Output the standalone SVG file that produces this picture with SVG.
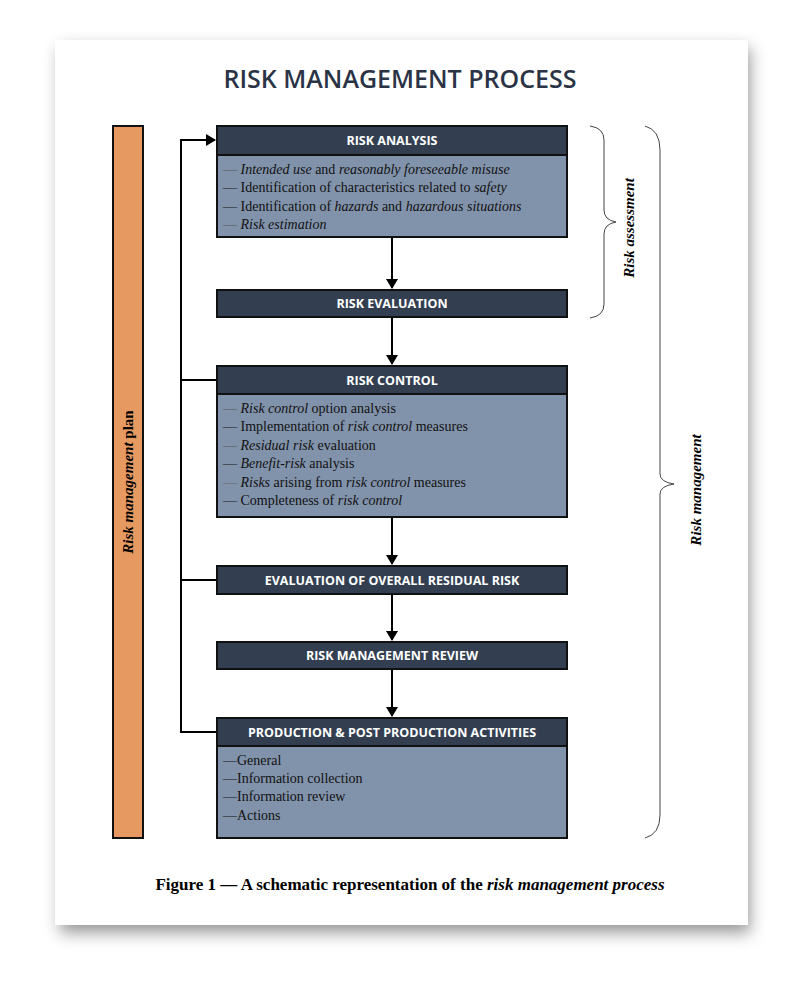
<svg xmlns="http://www.w3.org/2000/svg" width="800" height="988" viewBox="0 0 800 988">
<defs>
<filter id="sh" x="-10%" y="-10%" width="120%" height="120%"><feGaussianBlur stdDeviation="8"/></filter>
<marker id="ar" markerWidth="10" markerHeight="12" refX="9" refY="6" orient="auto" markerUnits="userSpaceOnUse"><path d="M0,0 L10,6 L0,12 Z" fill="#000"/></marker>
</defs>
<style>
.hd{fill:#333f51;stroke:#111;stroke-width:2}
.bd{fill:#8193ab;stroke:#111;stroke-width:2}
.ht{font-family:"Open Sans",sans-serif;font-weight:bold;font-size:12.5px;fill:#fff;text-anchor:middle}
.bt{font-family:"Liberation Serif",serif;font-size:14px;fill:#111}
.c{stroke:#000;stroke-width:2;fill:none}
.br{stroke:#444;stroke-width:1;fill:none}
</style>
<rect x="60" y="48" width="690" height="885" fill="#555" opacity="0.6" filter="url(#sh)"/>
<rect x="55" y="40" width="693" height="885" fill="#fff"/>
<text x="400" y="88" font-family="Open Sans,sans-serif" font-size="25" font-weight="600" fill="#2b3446" text-anchor="middle">RISK MANAGEMENT PROCESS</text>
<g id="plan"><rect x="113" y="126" width="30" height="712" fill="#e69a62" stroke="#111" stroke-width="2"/>
<text transform="translate(133,482) rotate(-90)" font-family="Liberation Serif,serif" font-size="15" font-weight="bold" text-anchor="middle"><tspan font-style="italic">Risk management</tspan>  plan</text></g>
<g id="connectors">
<path class="c" d="M217,380 H181 V140 H215" marker-end="url(#ar)"/>
<path class="c" d="M181,380 V732 H217 M181,580 H217"/>
<path class="c" d="M392,237 V288" marker-end="url(#ar)"/>
<path class="c" d="M392,317 V364" marker-end="url(#ar)"/>
<path class="c" d="M392,517 V564" stroke-width="1.3" marker-end="url(#ar)"/>
<path class="c" d="M392,594 V640" stroke-width="1.3" marker-end="url(#ar)"/>
<path class="c" d="M392,669 V716" stroke-width="1.3" marker-end="url(#ar)"/>
</g>
<g id="analysis"><rect class="hd" x="217" y="126" width="350" height="29"/><text class="ht" x="392" y="145">RISK ANALYSIS</text>
<rect class="bd" x="217" y="155" width="350" height="82"/>
<text class="bt" x="223" y="174"><tspan fill="#555">—</tspan> <tspan font-style="italic">Intended use</tspan> and <tspan font-style="italic">reasonably foreseeable misuse</tspan></text>
<text class="bt" x="223" y="192">— Identification of characteristics related to <tspan font-style="italic">safety</tspan></text>
<text class="bt" x="223" y="211">— Identification of <tspan font-style="italic">hazards</tspan> and <tspan font-style="italic">hazardous situations</tspan></text>
<text class="bt" x="223" y="229"><tspan fill="#555">—</tspan> <tspan font-style="italic">Risk estimation</tspan></text></g>
<g id="evaluation"><rect class="hd" x="217" y="290" width="350" height="27"/><text class="ht" x="392" y="308">RISK EVALUATION</text></g>
<g id="control"><rect class="hd" x="217" y="366" width="350" height="28"/><text class="ht" x="392" y="385">RISK CONTROL</text>
<rect class="bd" x="217" y="394" width="350" height="123"/>
<text class="bt" x="223" y="413"><tspan fill="#555">—</tspan> <tspan font-style="italic">Risk control</tspan> option analysis</text>
<text class="bt" x="223" y="431">— Implementation of  <tspan font-style="italic">risk control</tspan> measures</text>
<text class="bt" x="223" y="450"><tspan fill="#555">—</tspan> <tspan font-style="italic">Residual risk</tspan> evaluation</text>
<text class="bt" x="223" y="468">— <tspan font-style="italic">Benefit-risk</tspan> analysis</text>
<text class="bt" x="223" y="487"><tspan fill="#666">—</tspan> <tspan font-style="italic">Risks</tspan> arising from <tspan font-style="italic">risk control</tspan> measures</text>
<text class="bt" x="223" y="505">— Completeness of  <tspan font-style="italic">risk control</tspan></text></g>
<g id="overall"><rect class="hd" x="217" y="566" width="350" height="28"/><text class="ht" x="392" y="585">EVALUATION OF OVERALL RESIDUAL RISK</text></g>
<g id="review"><rect class="hd" x="217" y="642" width="350" height="27"/><text class="ht" x="392" y="660">RISK MANAGEMENT REVIEW</text></g>
<g id="production"><rect class="hd" x="217" y="718" width="350" height="28"/><text class="ht" x="392" y="737">PRODUCTION &amp; POST PRODUCTION ACTIVITIES</text>
<rect class="bd" x="217" y="746" width="350" height="92"/>
<text class="bt" x="223" y="765">—General</text>
<text class="bt" x="223" y="783">—Information collection</text>
<text class="bt" x="223" y="801">—Information review</text>
<text class="bt" x="223" y="820">—Actions</text></g>
<g id="braces">
<path class="br" d="M590,126 Q604,128 604,140 V210 Q604,220 616,222 Q604,224 604,234 V304 Q604,316 590,318"/>
<text transform="translate(634,228) rotate(-90)" font-family="Liberation Serif,serif" font-size="15" font-weight="bold" font-style="italic" text-anchor="middle">Risk assessment</text>
<path class="br" d="M645,126 Q660,130 660,150 V474 Q660,482 674,484 Q660,486 660,494 V815 Q660,834 645,838"/>
<text transform="translate(701,490) rotate(-90)" font-family="Liberation Serif,serif" font-size="15" font-weight="bold" font-style="italic" text-anchor="middle">Risk management</text>
</g>
<text x="410" y="890" font-family="Liberation Serif,serif" font-size="17" font-weight="bold" text-anchor="middle">Figure 1 — A schematic representation of the <tspan font-style="italic">risk management process</tspan></text>
</svg>
